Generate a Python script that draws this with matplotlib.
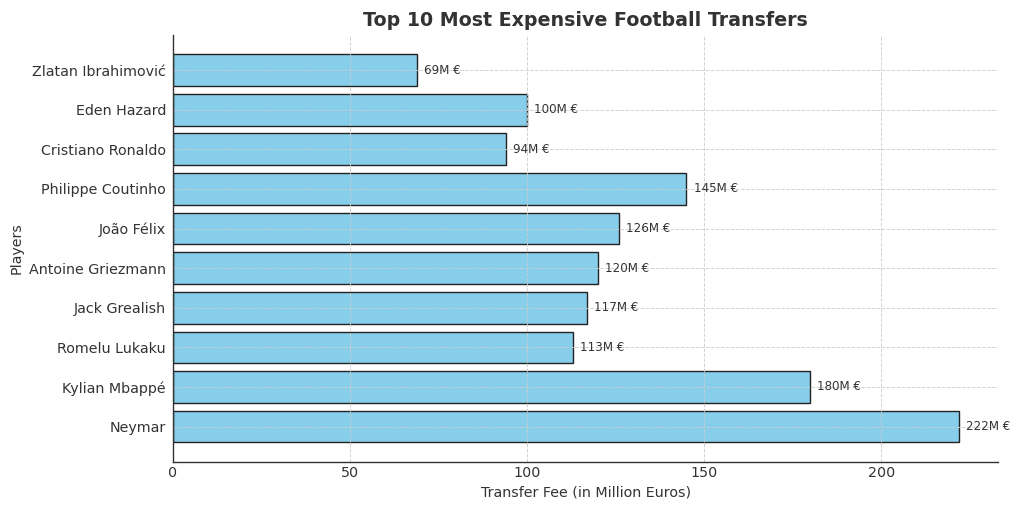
import matplotlib
matplotlib.use("Agg")
import matplotlib.pyplot as plt

players = ["Neymar", "Kylian Mbappé", "Romelu Lukaku", "Jack Grealish",
           "Antoine Griezmann", "João Félix", "Philippe Coutinho",
           "Cristiano Ronaldo", "Eden Hazard", "Zlatan Ibrahimović"]
fees = [222, 180, 113, 117, 120, 126, 145, 94, 100, 69]
x_ticks = [0, 50, 100, 150, 200]

s = 0.853
txt = "#333333"
plt.rcParams['font.family'] = ['DejaVu Sans']
fig = plt.figure(figsize=(10.24, 5.12), dpi=100)
ax = fig.add_axes([0.169, 0.098, 0.806, 0.834])

bars = ax.barh(players, fees, color="skyblue", edgecolor="#222222", linewidth=1.0, zorder=1)
ax.grid(True, linestyle="--", color="#cccccc", linewidth=0.8 * s, alpha=0.9, zorder=3)
ax.set_axisbelow(False)

for b, v in zip(bars, fees):
    ax.text(b.get_width() + 2, b.get_y() + b.get_height() / 2, f"{v}M €",
            va="center", ha="left", fontsize=10 * s, color=txt, zorder=4)

ax.set_xticks(x_ticks)
ax.set_title("Top 10 Most Expensive Football Transfers", fontsize=16 * s,
             fontweight="bold", color=txt, pad=6)
ax.set_xlabel("Transfer Fee (in Million Euros)", fontsize=12 * s, color=txt, labelpad=4)
ax.set_ylabel("Players", fontsize=12 * s, color=txt)
ax.tick_params(axis="x", labelsize=12 * s, colors=txt, length=0, pad=3.5 * s)
ax.tick_params(axis="y", labelsize=12 * s, colors=txt, length=0, pad=5)
ax.spines["top"].set_visible(False)
ax.spines["right"].set_visible(False)
for sp in ("left", "bottom"):
    ax.spines[sp].set_color(txt)
    ax.spines[sp].set_linewidth(1.0)
    ax.spines[sp].set_zorder(5)

fig.savefig("out.png", dpi=100)
